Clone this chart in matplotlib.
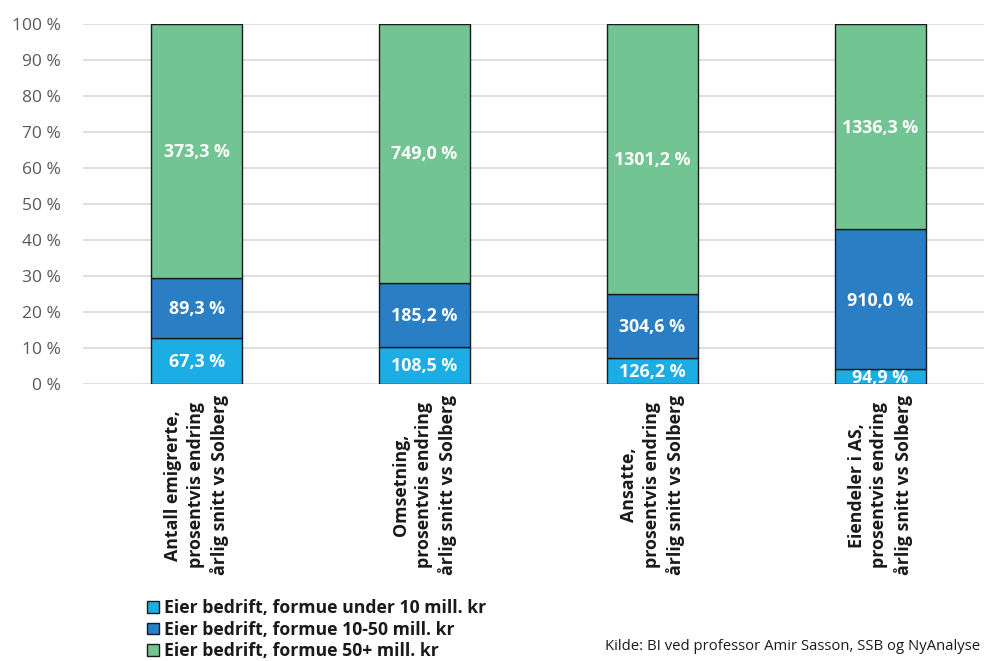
import numpy as np
import matplotlib.pyplot as plt

kategorier = ["Antall emigrerte,\nprosentvis endring\nårlig snitt vs Solberg",
              "Omsetning,\nprosentvis endring\nårlig snitt vs Solberg",
              "Ansatte,\nprosentvis endring\nårlig snitt vs Solberg",
              "Eiendeler i AS,\nprosentvis endring\nårlig snitt vs Solberg"]
serier = ["Eier bedrift, formue under 10 mill. kr",
          "Eier bedrift, formue 10-50 mill. kr",
          "Eier bedrift, formue 50+ mill. kr"]
under10 = [67.3, 108.5, 126.2, 94.9]
mellom = [89.3, 185.2, 304.6, 910.0]
over50 = [373.3, 749.0, 1301.2, 1336.3]

farger = ["#1BADE3", "#2A7EC4", "#72C492"]

plt.rcParams['font.family'] = ['Open Sans', 'DejaVu Sans']

verdier = np.array([under10, mellom, over50])
andel = verdier / verdier.sum(axis=0) * 100

fig = plt.figure(figsize=(9.84, 6.61), dpi=100)
ax = fig.add_axes([83/984, 277/661, 1 - 83/984, 360/661])

x = np.arange(len(kategorier))
bunn = np.zeros(len(kategorier))
for i in range(3):
    ax.bar(x, andel[i], bottom=bunn, width=0.40, color=farger[i],
           edgecolor="#1a1a1a", linewidth=1.0, label=serier[i], zorder=3)
    for j in range(len(x)):
        ax.text(x[j], bunn[j] + andel[i][j] / 2 - 0.3,
                f"{verdier[i][j]:.1f} %".replace(".", ","),
                ha="center", va="center", color="white",
                fontsize=12.8, fontweight="bold", zorder=4)
    bunn += andel[i]

ax.set_ylim(0, 100)
ax.set_xlim(-0.5, (984 - 196) / 228)
ax.set_yticks(range(0, 101, 10))
ax.set_yticklabels([f"{v} %" for v in range(0, 101, 10)], color="#595959", fontsize=12.5)
ax.yaxis.grid(True, color="#d9d9d9", linewidth=1.2, zorder=0)
ax.tick_params(axis="y", length=0, pad=16)
ax.tick_params(axis="x", length=0, pad=8)
ax.set_xticks(x)
ax.set_xticklabels(kategorier, rotation=90, fontsize=12.8, fontweight="bold",
                   color="#1a1a1a", ha="center", va="top", multialignment="center",
                   linespacing=1.35)
for s in ax.spines.values():
    s.set_visible(False)

handles = [plt.Rectangle((0, 0), 1, 1, facecolor=c, edgecolor="#1a1a1a", linewidth=1.0)
           for c in farger]
leg = fig.legend(handles, serier, loc="upper left", bbox_to_anchor=(140/984, 1 - 592/661),
                 frameon=False, fontsize=12.7, handlelength=0.65, handleheight=0.65,
                 handletextpad=0.3, labelspacing=0.2, borderaxespad=0)
for t in leg.get_texts():
    t.set_fontweight("bold")
    t.set_color("#1a1a1a")

# kilden er kuttet i originalen, her litt mindre saa den faar plass
fig.text(980/984, 1 - 647/661, "Kilde: BI ved professor Amir Sasson, SSB og NyAnalyse",
         fontsize=10.7, color="#1a1a1a", va="center", ha="right")

fig.savefig("out.png", dpi=100)
